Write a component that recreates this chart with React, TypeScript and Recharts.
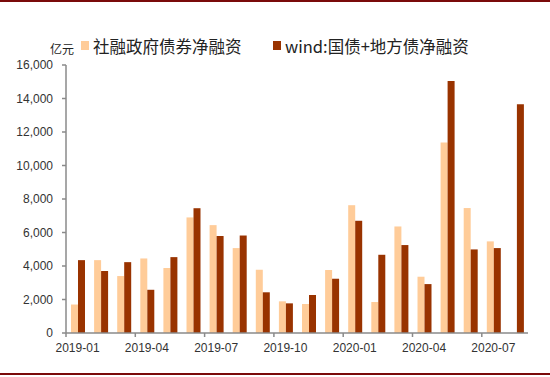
import React from 'react';
import { BarChart, Bar, XAxis, YAxis } from 'recharts';

const months = [
  '2019-01', '2019-02', '2019-03', '2019-04', '2019-05', '2019-06', '2019-07',
  '2019-08', '2019-09', '2019-10', '2019-11', '2019-12', '2020-01', '2020-02',
  '2020-03', '2020-04', '2020-05', '2020-06', '2020-07', '2020-08',
];
const govBondFinancing = [
  1700, 4350, 3400, 4450, 3880, 6900, 6440, 5070, 3780, 1890,
  1730, 3760, 7630, 1850, 6360, 3360, 11370, 7460, 5470, null,
];
const windNetFinancing = [
  4350, 3700, 4230, 2580, 4530, 7450, 5790, 5820, 2430, 1770,
  2270, 3240, 6700, 4670, 5250, 2920, 15050, 4990, 5070, 13660,
];
const yTicks = [0, 2000, 4000, 6000, 8000, 10000, 12000, 14000, 16000];
const seriesNames = ['社融政府债券净融资', 'wind:国债+地方债净融资'];
const unitLabel = '亿元';

const LIGHT = '#FFCC99';
const DARK = '#993300';
const AXIS = '#8A8A8A';
const LATIN = 'Arial, "Liberation Sans", sans-serif';
const CJK = '"Noto Sans CJK SC", sans-serif';

const W = 550;
const H = 377;
const MARGIN = { top: 65, right: 22, bottom: 0, left: 0 };
const Y_AXIS_W = 66;
const X_AXIS_H = 44;
const PLOT_W = W - MARGIN.left - MARGIN.right - Y_AXIS_W;
const BAND = PLOT_W / months.length;
const AXIS_Y = H - MARGIN.bottom - X_AXIS_H;

const data = months.map((m, i) => ({
  month: m,
  gov: govBondFinancing[i],
  wind: windNetFinancing[i],
}));

// excel style: tick marks sit between categories, labels in the middle
const MonthTick = (props: any) => {
  const { x, payload } = props;
  const edge = x - BAND / 2;
  return (
    <g>
      <line x1={edge} y1={AXIS_Y} x2={edge} y2={AXIS_Y + 4} stroke={AXIS} strokeWidth={1.5} />
      <text x={x} y={AXIS_Y + 19} textAnchor="middle" fill="#333" fontSize={12} fontFamily={LATIN}>
        {payload.value}
      </text>
    </g>
  );
};

const LegendItem = ({ color, label, left }: { color: string; label: string; left: number }) => (
  <div style={{ position: 'absolute', left, top: 34, display: 'flex', alignItems: 'center', height: 23 }}>
    <span style={{ width: 8, height: 9, background: color, marginRight: 4, display: 'inline-block' }} />
    <span style={{ fontFamily: CJK, fontSize: 16.5, color: '#222', whiteSpace: 'nowrap' }}>{label}</span>
  </div>
);

export default function App() {
  return (
    <div style={{ position: 'absolute', left: 0, top: 0, width: W, height: H, background: '#fff', overflow: 'hidden' }}>
      <div style={{ position: 'absolute', left: 0, top: 0, width: W, height: 2, background: '#7A0A0A' }} />
      <div style={{ position: 'absolute', left: 0, top: 373, width: W, height: 2, background: '#7A0A0A' }} />
      <div style={{ position: 'absolute', left: 50, top: 40, fontFamily: CJK, fontSize: 12, color: '#222' }}>{unitLabel}</div>
      <LegendItem color={LIGHT} label={seriesNames[0]} left={81} />
      <LegendItem color={DARK} label={seriesNames[1]} left={273} />
      <BarChart width={W} height={H} data={data} margin={MARGIN} barGap={0} barSize={7}>
        <XAxis
          dataKey="month"
          height={X_AXIS_H}
          interval={2}
          tickLine={false}
          axisLine={{ stroke: AXIS, strokeWidth: 1.5 }}
          tick={<MonthTick />}
        />
        <YAxis
          width={Y_AXIS_W}
          domain={[0, 16000]}
          ticks={yTicks}
          interval={0}
          tickSize={4}
          tickMargin={9}
          axisLine={{ stroke: AXIS, strokeWidth: 1.5 }}
          tickLine={{ stroke: AXIS, strokeWidth: 1.5 }}
          tick={{ fill: '#333', fontSize: 12, fontFamily: LATIN }}
          tickFormatter={(v: number) => v.toLocaleString('en-US')}
        />
        <Bar dataKey="gov" name={seriesNames[0]} fill={LIGHT} isAnimationActive={false} />
        <Bar dataKey="wind" name={seriesNames[1]} fill={DARK} isAnimationActive={false} />
      </BarChart>
    </div>
  );
}
